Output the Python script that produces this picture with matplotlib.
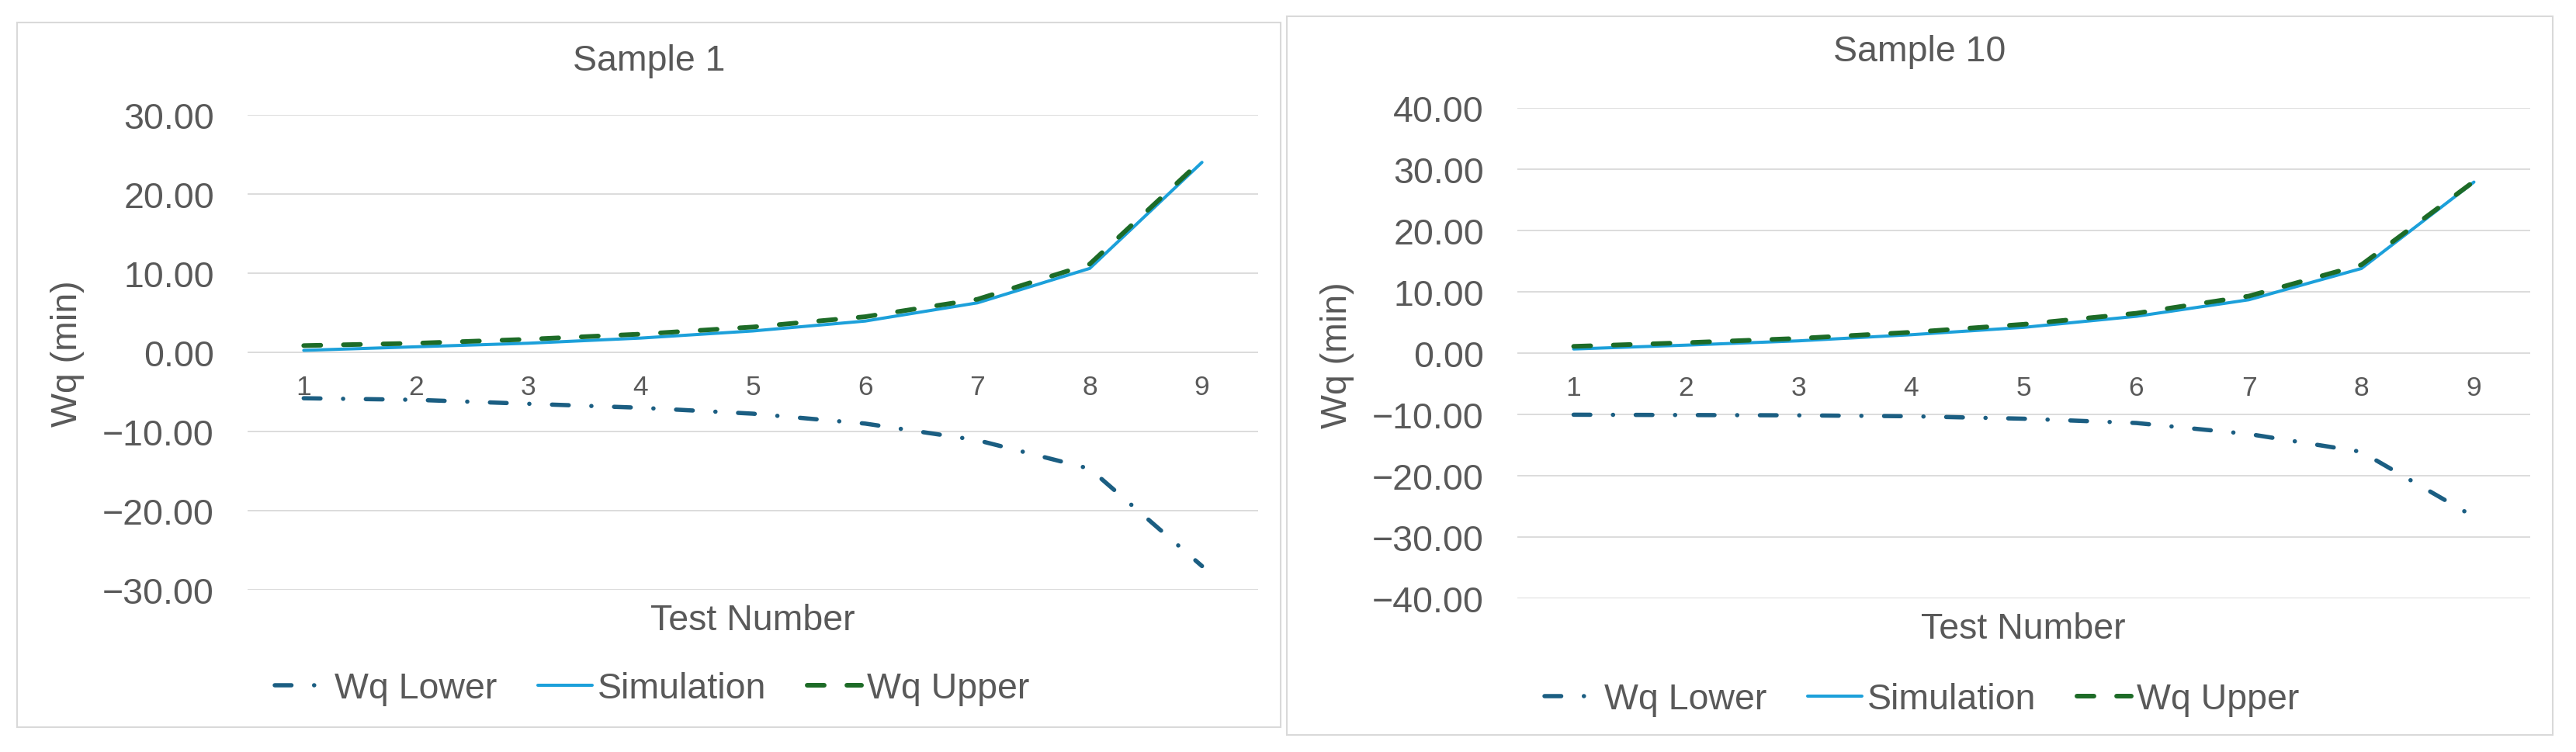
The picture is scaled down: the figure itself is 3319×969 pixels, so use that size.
import matplotlib
matplotlib.use("Agg")
import matplotlib.pyplot as plt
from matplotlib.patches import Rectangle
from matplotlib.ticker import FuncFormatter

plt.rcParams['font.family'] = ['Liberation Sans', 'DejaVu Sans']
plt.rcParams['lines.scale_dashes'] = False

# ---- data ----
tests = [1, 2, 3, 4, 5, 6, 7, 8, 9]
tick_labels = ["1", "2", "3", "4", "5", "6", "7", "8", "9"]

s1_lower = [-5.8, -6.0, -6.5, -7.0, -7.75, -9.0, -11.1, -14.7, -27.0]
s1_sim = [0.25, 0.7, 1.15, 1.8, 2.7, 3.95, 6.25, 10.6, 24.0]
s1_upper = [0.85, 1.15, 1.65, 2.3, 3.2, 4.5, 6.7, 11.15, 24.3]

s10_lower = [-10.05, -10.1, -10.15, -10.3, -10.7, -11.4, -13.2, -16.1, -26.7]
s10_sim = [0.67, 1.3, 2.0, 3.0, 4.2, 6.0, 8.7, 13.8, 27.9]
s10_upper = [1.1, 1.7, 2.4, 3.4, 4.7, 6.5, 9.3, 14.4, 28.0]

titles = ["Sample 1", "Sample 10"]
series_names = ["Wq Lower", "Simulation", "Wq Upper"]
ylims = [(-30, 30), (-40, 40)]

# ---- style ----
W, H = 3319, 970
DPI = 100
TXT = '#595959'
GRID = '#d9d9d9'
C_LOW = '#1B5E82'
C_SIM = '#1CA0DA'
C_UP = '#1D6B27'
FS = 33.5

fig = plt.figure(figsize=(W / DPI, H / DPI), dpi=DPI)


def fx(px):
    return px / W


def fy(py):
    return 1 - py / H


panels = [
    dict(border=(22, 30, 1650, 938), plot=(319, 149, 1621, 761),
         title=(836, 79), ylab=(87, 456), xlab=(970, 800), leg=(840, 888),
         data=(s1_lower, s1_sim, s1_upper)),
    dict(border=(1658, 22, 3289, 948), plot=(1955, 140, 3260, 772),
         title=(2473, 67), ylab=(1723, 458), xlab=(2607, 811), leg=(2476, 902),
         data=(s10_lower, s10_sim, s10_upper)),
]

fmt = FuncFormatter(lambda v, p: ("\u2212" if v < 0 else "") + f"{abs(v):.2f}")

for i, pn in enumerate(panels):
    bx0, by0, bx1, by1 = pn['border']
    fig.patches.append(Rectangle((fx(bx0), fy(by1)), fx(bx1 - bx0), (by1 - by0) / H,
                                 transform=fig.transFigure, fill=False,
                                 edgecolor=GRID, linewidth=1.5, zorder=0))
    x0, y0, x1, y1 = pn['plot']
    ax = fig.add_axes([fx(x0), fy(y1), fx(x1 - x0), (y1 - y0) / H])
    ax.set_facecolor('none')
    lo, hi = ylims[i]
    ax.set_ylim(lo, hi)
    ax.set_xlim(0.5, 9.5)
    ax.set_yticks(range(lo, hi + 1, 10))
    ax.yaxis.set_major_formatter(fmt)
    ax.grid(axis='y', color=GRID, linewidth=1.3)
    ax.set_axisbelow(True)
    for s in ax.spines.values():
        s.set_visible(False)
    ax.spines['bottom'].set_position(('data', 0))
    ax.set_xticks(tests)
    ax.set_xticklabels(tick_labels)
    ax.tick_params(axis='y', length=0, pad=31, labelsize=FS, labelcolor=TXT)
    ax.tick_params(axis='x', length=0, pad=20, labelsize=25.5, labelcolor=TXT)

    low, sim, up = pn['data']
    l1, = ax.plot(tests, low, color=C_LOW, linewidth=3.96,
                  dashes=(15.5, 21, 0.1, 21), dash_capstyle='round', zorder=3)
    l2, = ax.plot(tests, sim, color=C_SIM, linewidth=2.9,
                  solid_capstyle='round', zorder=3)
    l3, = ax.plot(tests, up, color=C_UP, linewidth=4.3,
                  dashes=(15.8, 21), dash_capstyle='round', zorder=4)

    fig.text(fx(pn['title'][0]), fy(pn['title'][1]), titles[i], ha='center',
             va='center', fontsize=FS, color=TXT)
    fig.text(fx(pn['ylab'][0]), fy(pn['ylab'][1]), "Wq (min)", ha='center',
             va='center', rotation=90, fontsize=FS, color=TXT)
    fig.text(fx(pn['xlab'][0]), fy(pn['xlab'][1]), "Test Number", ha='center',
             va='center', fontsize=FS, color=TXT)
    leg = ax.legend([l1, l2, l3], series_names, loc='center',
                    bbox_to_anchor=(fx(pn['leg'][0]), fy(pn['leg'][1])),
                    bbox_transform=fig.transFigure, ncol=3, frameon=False,
                    fontsize=FS, handlelength=1.5, handletextpad=0.15,
                    columnspacing=1.14, borderpad=0, borderaxespad=0)
    for t in leg.get_texts():
        t.set_color(TXT)

fig.savefig("out.png", dpi=DPI, facecolor='white')
